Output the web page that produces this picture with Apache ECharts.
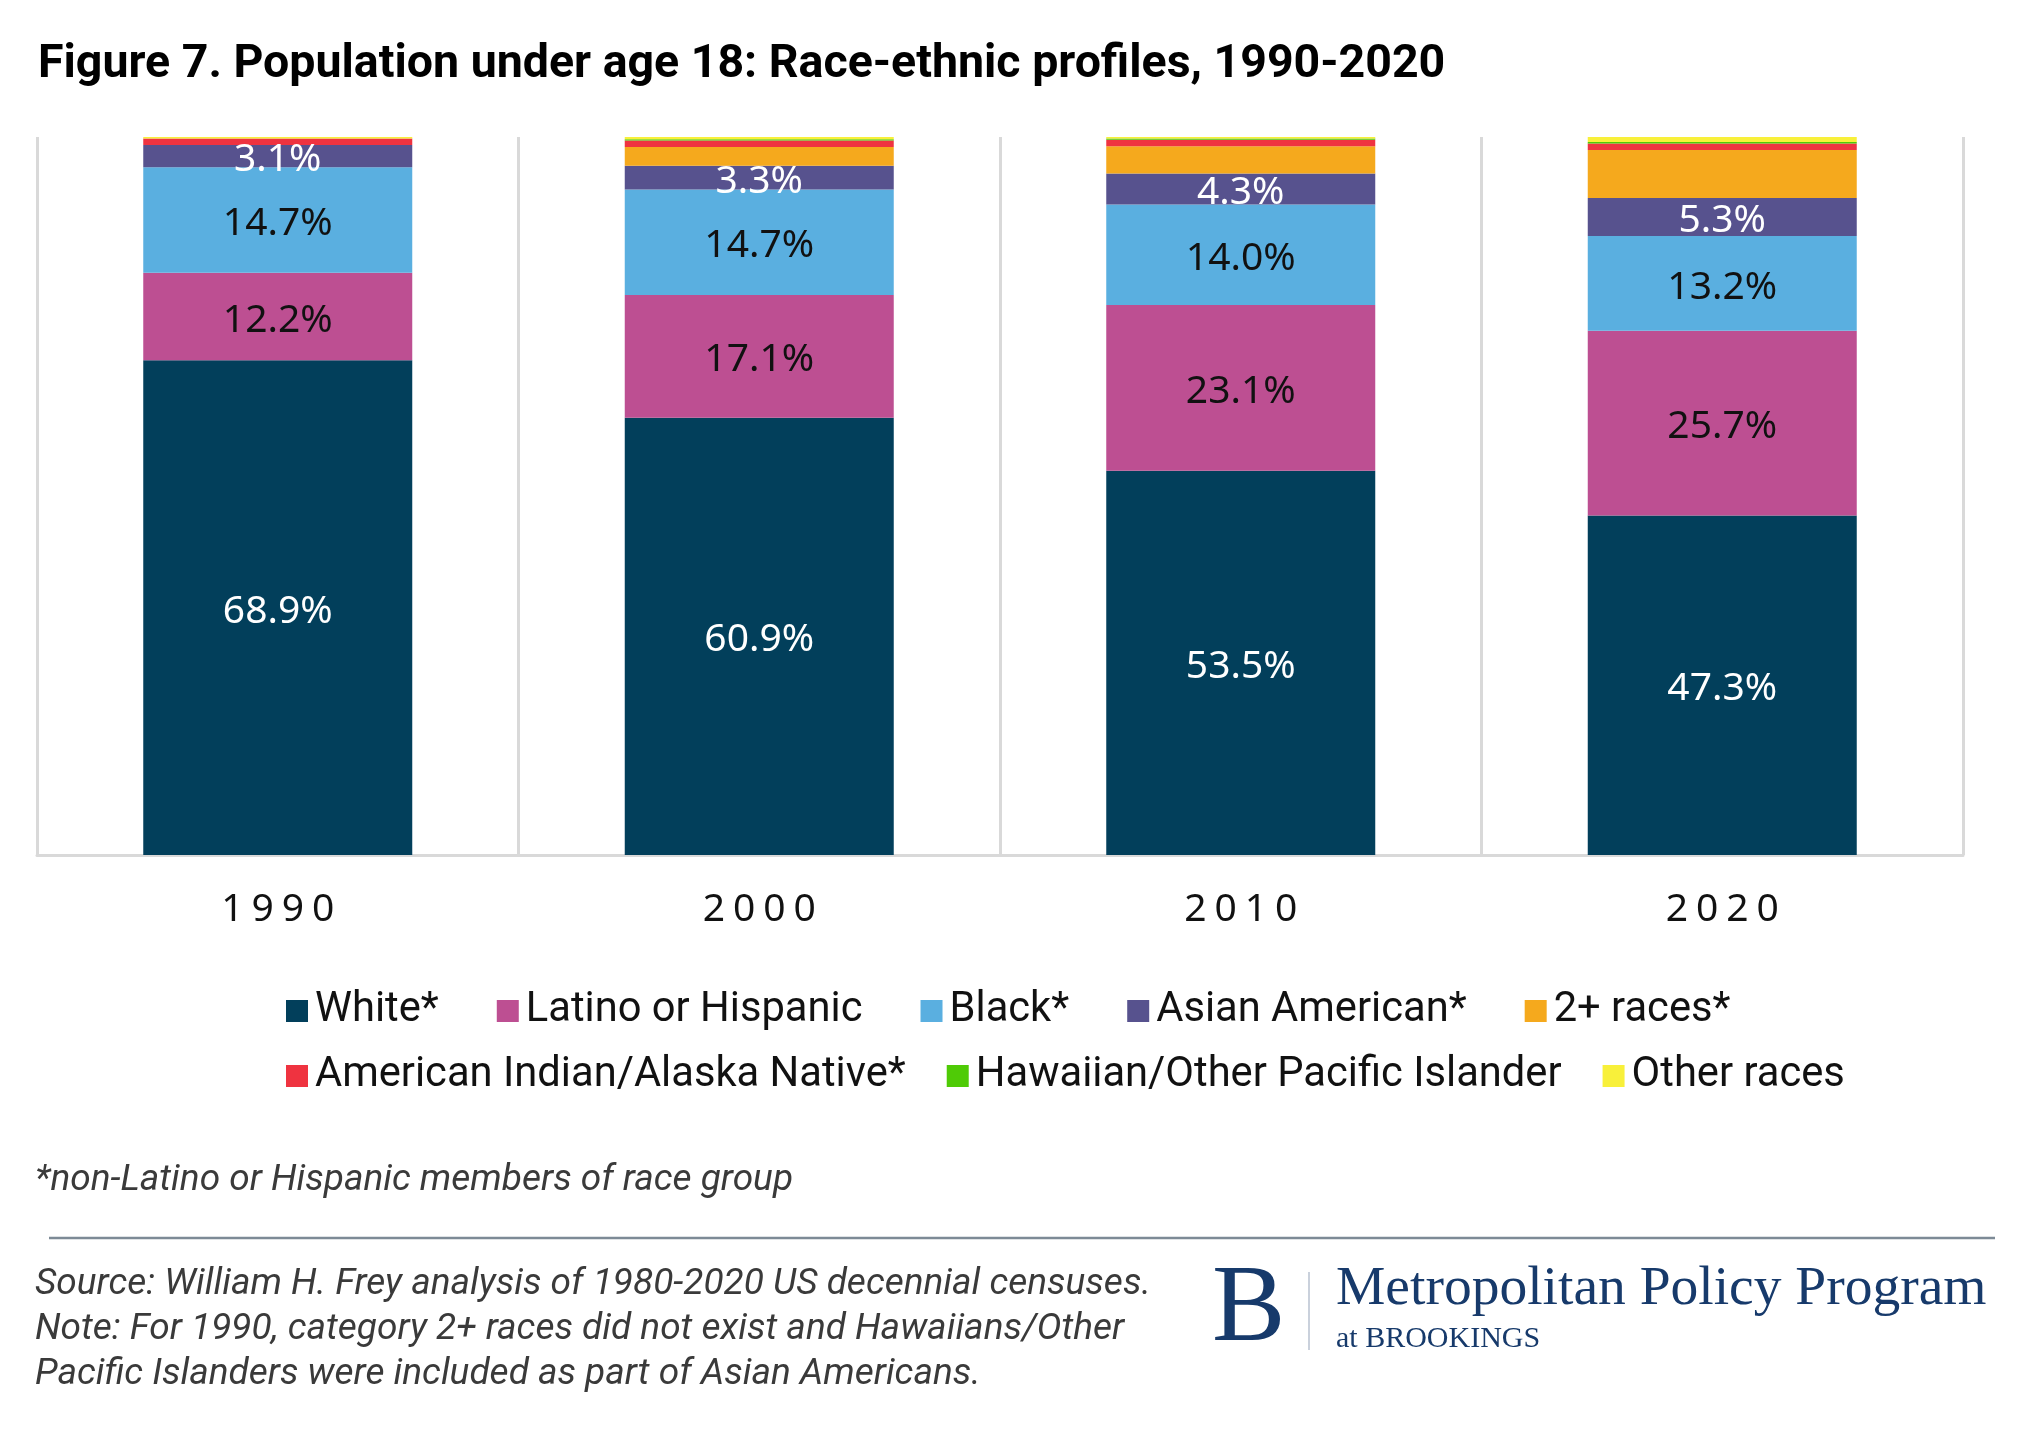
<!DOCTYPE html>
<html>
<head>
<meta charset="utf-8">
<script src="https://cdn.jsdelivr.net/npm/echarts@6/dist/echarts.min.js"></script>
<style>html,body{margin:0;padding:0;background:#fff}#c{width:2017px;height:1438px}</style>
</head>
<body>
<div id="c"></div>
<script>
// ---- data ----
const years = ['1990', '2000', '2010', '2020'];
const white    = [68.9, 60.9, 53.5, 47.3];
const latino   = [12.2, 17.1, 23.1, 25.7];
const black    = [14.7, 14.7, 14.0, 13.2];
const asian    = [3.1, 3.3, 4.3, 5.3];
const twoPlus  = [0, 2.6, 3.8, 6.7];
const aian     = [0.9, 0.9, 0.9, 0.9];
const nhpi     = [0, 0.2, 0.2, 0.2];
const other    = [0.2, 0.3, 0.2, 0.7];
const seriesNames = ['White*', 'Latino or Hispanic', 'Black*', 'Asian American*', '2+ races*',
  'American Indian/Alaska Native*', 'Hawaiian/Other Pacific Islander', 'Other races'];
const colors = ['#023f5b', '#bd4f92', '#5aafe0', '#57528e', '#f5a91d', '#ef3340', '#4fcb06', '#f8f03a'];
const labelColors = ['#ffffff', '#111111', '#111111', '#ffffff'];

const allData = [white, latino, black, asian, twoPlus, aian, nhpi, other];

const series = allData.map((d, i) => ({
  name: seriesNames[i],
  type: 'bar',
  stack: 'total',
  barWidth: 269,
  data: d,
  itemStyle: { color: colors[i] },
  label: i < 4 ? {
    show: true,
    position: 'inside',
    offset: [0, 4],
    formatter: p => p.value.toFixed(1) + '%',
    color: labelColors[i],
    fontFamily: 'Noto Sans',
    fontSize: 39
  } : { show: false },
  emphasis: { disabled: true }
}));

const chart = echarts.init(document.getElementById('c'), null, { renderer: 'canvas' });
chart.setOption({
  backgroundColor: '#ffffff',
  animation: false,
  grid: { left: 37, right: 54, top: 137, bottom: 1438 - 855, containLabel: false },
  xAxis: {
    type: 'category',
    data: years,
    axisLine: { show: true, lineStyle: { color: '#d9d9d9', width: 3 } },
    axisTick: { show: false },
    splitLine: { show: true, interval: 0, lineStyle: { color: '#d9d9d9', width: 3 } },
    axisLabel: {
      margin: 35,
      formatter: v => v.split('').map(c => '{d|' + c + '}').join(''),
      rich: { d: { fontFamily: 'Noto Sans', fontSize: 39, color: '#111', padding: [0, 4, 0, 4] } }
    }
  },
  yAxis: {
    type: 'value', min: 0, max: 100, show: false,
    splitLine: { show: false }
  },
  legend: [
    {
      data: seriesNames.slice(0, 5),
      left: 281, top: 985,
      icon: 'rect', itemWidth: 22, itemHeight: 22, itemGap: 58,
      textStyle: { fontFamily: 'Roboto', fontSize: 41.7, color: '#111', padding: [0, 0, 0, 2] },
      selectedMode: false
    },
    {
      data: seriesNames.slice(5),
      left: 281, top: 1050,
      icon: 'rect', itemWidth: 22, itemHeight: 22, itemGap: 41,
      textStyle: { fontFamily: 'Roboto', fontSize: 41.7, color: '#111', padding: [0, 0, 0, 2] },
      selectedMode: false
    }
  ],
  graphic: [
    { type: 'text', left: 38, top: 42, style: { text: 'Figure 7. Population under age 18: Race-ethnic profiles, 1990-2020', font: 'bold 46.5px Roboto', fill: '#000' } },
    { type: 'text', left: 35, top: 1162, style: { text: '*non-Latino or Hispanic members of race group', font: 'italic 37px Roboto', fill: '#3a3a3a' } },
    { type: 'line', shape: { x1: 49, y1: 1238, x2: 1995, y2: 1238 }, style: { stroke: '#7d8a96', lineWidth: 2.5 } },
    { type: 'text', left: 35, top: 1266, style: { text: 'Source: William H. Frey analysis of 1980-2020 US decennial censuses.', font: 'italic 37px Roboto', fill: '#3a3a3a' } },
    { type: 'text', left: 35, top: 1311, style: { text: 'Note: For 1990, category 2+ races did not exist and Hawaiians/Other', font: 'italic 37px Roboto', fill: '#3a3a3a' } },
    { type: 'text', left: 35, top: 1356, style: { text: 'Pacific Islanders were included as part of Asian Americans.', font: 'italic 37px Roboto', fill: '#3a3a3a' } },
    { type: 'text', left: 1212, top: 1256, style: { text: 'B', font: '110px "Liberation Serif"', fill: '#173a6b' } },
    { type: 'line', shape: { x1: 1309, y1: 1272, x2: 1309, y2: 1350 }, style: { stroke: '#b8c2d0', lineWidth: 1.5 } },
    { type: 'text', left: 1336, top: 1261, style: { text: 'Metropolitan Policy Program', font: '55.5px "Liberation Serif"', fill: '#173a6b' } },
    { type: 'text', left: 1336, top: 1324, style: { text: 'at BROOKINGS', font: '30px "Liberation Serif"', fill: '#173a6b' } }
  ],
  series: series
});
</script>
</body>
</html>
